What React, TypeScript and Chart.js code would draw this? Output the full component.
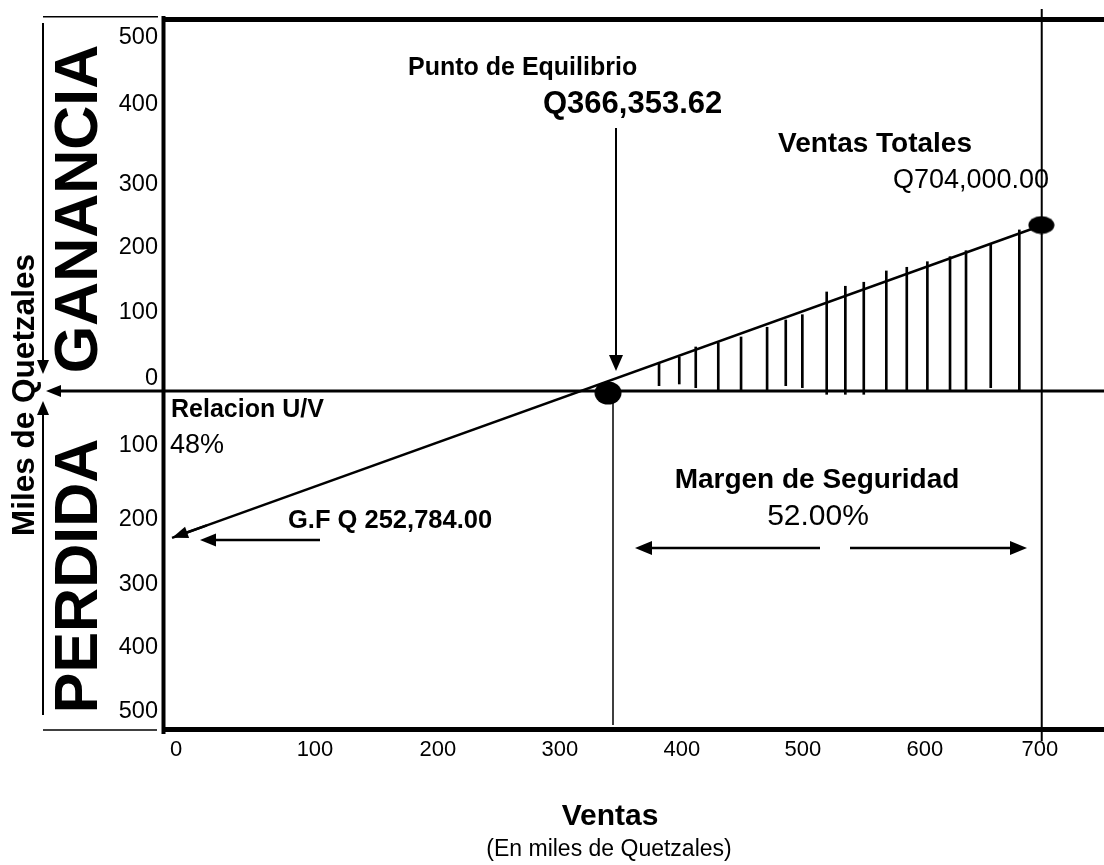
import React, { useEffect, useRef } from "react";
import { Chart, registerables } from "chart.js";

Chart.register(...registerables);

// ---- data (thousands of quetzales) ----
const xTickPos = [-14, 100.7, 202.2, 302.9, 403.6, 503.5, 604.2, 699.1];
const xTickLabels = ["0", "100", "200", "300", "400", "500", "600", "700"];

const yTickPos = [-472, -377.9, -285.3, -189.7, -80.1, 17.6, 115.4, 210.3, 303.7, 420.6, 519.9];
const yTickLabels = ["500", "400", "300", "200", "100", "0", "100", "200", "300", "400", "500"];

// profit/loss line (from fixed-cost loss up to total sales)
const profitX = [-17.3, 699.2];
const profitY = [-216, 242.6];

// hatch lines in the profit zone
const hatchX = [384.7, 401.4, 415.0, 433.6, 452.4, 473.9, 489.3, 503.0, 523.1, 538.5, 553.7, 572.3, 589.2, 606.2, 624.9, 638.1, 658.5, 682.1];
const hatchTop = [42.2, 50.0, 64.7, 71.0, 79.4, 93.7, 104.4, 112.2, 145.6, 154.0, 159.9, 176.5, 181.9, 190.1, 197.5, 206.3, 217.2, 236.8];
const hatchBottom = [7.8, 10.3, 4.9, 1.5, 1.5, 1.5, 7.8, 4.9, -4.9, -4.9, -4.9, 1.5, 1.5, 1.5, -1, 1.5, 4.9, 1.5];

// marked points: break-even and total sales
const markerX = [342.6, 700.3];
const markerY = [-2.9, 244];

// vertical reference lines
const breakEvenLineX = [346.7, 346.7];
const breakEvenLineY = [0, -491];
const totalSalesLineX = [700.6, 700.6];
const totalSalesLineY = [561.8, -514.7];

const FONT = '"Liberation Sans", Arial, Helvetica, sans-serif';

function ellipseCanvas(w: number, h: number) {
  const c = document.createElement("canvas");
  c.width = w;
  c.height = h;
  const g = c.getContext("2d")!;
  g.fillStyle = "#000";
  g.beginPath();
  g.ellipse(w / 2, h / 2, w / 2 - 0.5, h / 2 - 0.5, 0, 0, Math.PI * 2);
  g.fill();
  return c;
}

function arrow(ctx: CanvasRenderingContext2D, x1: number, y1: number, x2: number, y2: number, head: number, hw: number, lw: number) {
  const dx = x2 - x1;
  const dy = y2 - y1;
  const len = Math.hypot(dx, dy);
  const ux = dx / len;
  const uy = dy / len;
  const bx = x2 - ux * head;
  const by = y2 - uy * head;
  ctx.save();
  ctx.strokeStyle = "#000";
  ctx.fillStyle = "#000";
  ctx.lineWidth = lw;
  ctx.beginPath();
  ctx.moveTo(x1, y1);
  ctx.lineTo(bx + ux * 1, by + uy * 1);
  ctx.stroke();
  ctx.beginPath();
  ctx.moveTo(x2, y2);
  ctx.lineTo(bx - uy * hw, by + ux * hw);
  ctx.lineTo(bx + uy * hw, by - ux * hw);
  ctx.closePath();
  ctx.fill();
  ctx.restore();
}

function line(ctx: CanvasRenderingContext2D, x1: number, y1: number, x2: number, y2: number, lw: number) {
  ctx.save();
  ctx.strokeStyle = "#000";
  ctx.lineWidth = lw;
  ctx.beginPath();
  ctx.moveTo(x1, y1);
  ctx.lineTo(x2, y2);
  ctx.stroke();
  ctx.restore();
}

function text(ctx: CanvasRenderingContext2D, s: string, x: number, y: number, font: string, align: CanvasTextAlign = "left") {
  ctx.save();
  ctx.font = font;
  ctx.fillStyle = "#000";
  ctx.textAlign = align;
  ctx.textBaseline = "alphabetic";
  ctx.fillText(s, x, y);
  ctx.restore();
}

function vtext(ctx: CanvasRenderingContext2D, s: string, cx: number, cy: number, size: number, bold: boolean) {
  ctx.save();
  ctx.font = `${bold ? "bold " : ""}${size}px ${FONT}`;
  ctx.fillStyle = "#000";
  ctx.textAlign = "center";
  ctx.textBaseline = "alphabetic";
  ctx.translate(cx + (0.716 * size) / 2, cy);
  ctx.rotate(-Math.PI / 2);
  ctx.fillText(s, 0, 0);
  ctx.restore();
}

const overlayPlugin = {
  id: "breakEvenOverlay",
  beforeDatasetsDraw(chart: any) {
    const ctx = chart.ctx as CanvasRenderingContext2D;
    const { right } = chart.chartArea;
    const y0 = chart.scales.y.getPixelForValue(0);
    // zero line with left arrow
    arrow(ctx, right, y0, 46, y0, 15, 6, 3);
  },
  afterDraw(chart: any) {
    const ctx = chart.ctx as CanvasRenderingContext2D;
    const { left, right, top, bottom } = chart.chartArea;
    const xs = chart.scales.x;
    const ys = chart.scales.y;

    // frame
    line(ctx, left + 0.5, top - 3, left + 0.5, bottom + 3, 4);
    line(ctx, left, top + 0.5, right, top + 0.5, 5);
    line(ctx, left, bottom - 1.5, right, bottom - 1.5, 5);

    // thin lines at left
    line(ctx, 43, 16.7, 158, 16.7, 1.5);
    line(ctx, 43, 730, 157, 730, 1.5);

    // vertical arrows for GANANCIA / PERDIDA
    arrow(ctx, 43, 23, 43, 374, 14, 6, 2);
    arrow(ctx, 43, 715, 43, 401, 14, 6, 2);

    // arrowhead at left end of profit line
    const px0 = xs.getPixelForValue(profitX[0]);
    const py0 = ys.getPixelForValue(profitY[0]);
    const px1 = xs.getPixelForValue(profitX[1]);
    const py1 = ys.getPixelForValue(profitY[1]);
    const t = 0.04;
    arrow(ctx, px0 + (px1 - px0) * t, py0 + (py1 - py0) * t, px0, py0, 16, 6, 2.5);

    // break-even pointer
    const bx = xs.getPixelForValue(breakEvenLineX[0]) + 3;
    arrow(ctx, bx, 128, bx, 371, 16, 7, 2);

    // G.F arrow
    arrow(ctx, 320, 540, 200, 540, 16, 6.5, 2.5);

    // Margen de seguridad arrows
    arrow(ctx, 820, 548, 635, 548, 17, 7, 2.5);
    arrow(ctx, 850, 548, 1027, 548, 17, 7, 2.5);

    // texts
    text(ctx, "Punto de Equilibrio", 408, 75, `bold 25px ${FONT}`);
    text(ctx, "Q366,353.62", 543, 113, `bold 31px ${FONT}`);
    text(ctx, "Ventas Totales", 778, 152, `bold 28px ${FONT}`);
    text(ctx, "Q704,000.00", 893, 188, `27px ${FONT}`);
    text(ctx, "Relacion U/V", 171, 417, `bold 25px ${FONT}`);
    text(ctx, "48%", 170, 453, `27px ${FONT}`);
    text(ctx, "G.F Q 252,784.00", 288, 528, `bold 25.5px ${FONT}`);
    text(ctx, "Margen de Seguridad", 817, 488, `bold 28px ${FONT}`, "center");
    text(ctx, "52.00%", 818, 525, `30px ${FONT}`, "center");
    text(ctx, "Ventas", 610, 825, `bold 30px ${FONT}`, "center");
    text(ctx, "(En miles de Quetzales)", 609, 856, `23px ${FONT}`, "center");

    vtext(ctx, "GANANCIA", 75, 209, 61, true);
    vtext(ctx, "PERDIDA", 75, 576, 61, true);
    vtext(ctx, "Miles de Quetzales", 23, 395, 31.5, true);
  },
};

export default function App() {
  const ref = useRef<HTMLCanvasElement | null>(null);

  useEffect(() => {
    document.body.style.margin = "0";
    const canvas = ref.current!;
    const markerStyles = [ellipseCanvas(28, 24), ellipseCanvas(27, 19)];

    const chart = new Chart(canvas, {
      type: "line",
      data: {
        datasets: [
          {
            type: "scatter",
            data: markerX.map((x, i) => ({ x, y: markerY[i] })),
            pointStyle: markerStyles as any,
            pointRadius: 13,
            showLine: false,
            clip: false,
          } as any,
          {
            type: "line",
            data: profitX.map((x, i) => ({ x, y: profitY[i] })),
            borderColor: "#000",
            borderWidth: 2.5,
            pointRadius: 0,
            clip: false,
          },
          {
            type: "bar",
            data: hatchX.map((x, i) => ({ x, y: [hatchBottom[i], hatchTop[i]] })),
            backgroundColor: "#000",
            borderWidth: 0,
            barThickness: 2,
            grouped: false,
          } as any,
          {
            type: "line",
            data: breakEvenLineX.map((x, i) => ({ x, y: breakEvenLineY[i] })),
            borderColor: "#000",
            borderWidth: 1.5,
            pointRadius: 0,
            clip: false,
          },
          {
            type: "line",
            data: totalSalesLineX.map((x, i) => ({ x, y: totalSalesLineY[i] })),
            borderColor: "#000",
            borderWidth: 2,
            pointRadius: 0,
            clip: false,
          },
        ],
      },
      options: {
        responsive: false,
        animation: false,
        devicePixelRatio: 1,
        layout: { autoPadding: false, padding: { top: 19, right: 0, bottom: 0, left: 0 } },
        plugins: {
          legend: { display: false },
          tooltip: { enabled: false },
        },
        scales: {
          x: {
            type: "linear",
            min: -24.76,
            max: 752,
            offset: false,
            grid: { display: false, drawTicks: false, offset: false },
            border: { display: false },
            afterBuildTicks: (scale: any) => {
              scale.ticks = xTickPos.map((v) => ({ value: v }));
            },
            afterFit: (scale: any) => {
              scale.height = 134;
              scale.paddingLeft = 0;
              scale.paddingRight = 0;
            },
            ticks: {
              autoSkip: false,
              maxRotation: 0,
              padding: 6,
              color: "#000",
              font: { family: FONT, size: 22 },
              callback: (_v: any, i: number) => xTickLabels[i],
            },
          },
          y: {
            type: "linear",
            min: -500,
            max: 547,
            grid: { display: false, drawTicks: false },
            border: { display: false },
            afterBuildTicks: (scale: any) => {
              scale.ticks = yTickPos.map((v) => ({ value: v }));
            },
            afterFit: (scale: any) => {
              scale.width = 163;
              scale.paddingTop = 0;
              scale.paddingBottom = 0;
            },
            ticks: {
              autoSkip: false,
              padding: 5,
              color: "#000",
              font: { family: FONT, size: 23.5 },
              callback: (_v: any, i: number) => yTickLabels[i],
            },
          },
        },
      } as any,
      plugins: [overlayPlugin],
    });
    return () => chart.destroy();
  }, []);

  return (
    <div style={{ position: "fixed", left: 0, top: 0, width: 1104, height: 865, background: "#fff" }}>
      <canvas ref={ref} width={1104} height={865} style={{ width: 1104, height: 865, display: "block" }} />
    </div>
  );
}
